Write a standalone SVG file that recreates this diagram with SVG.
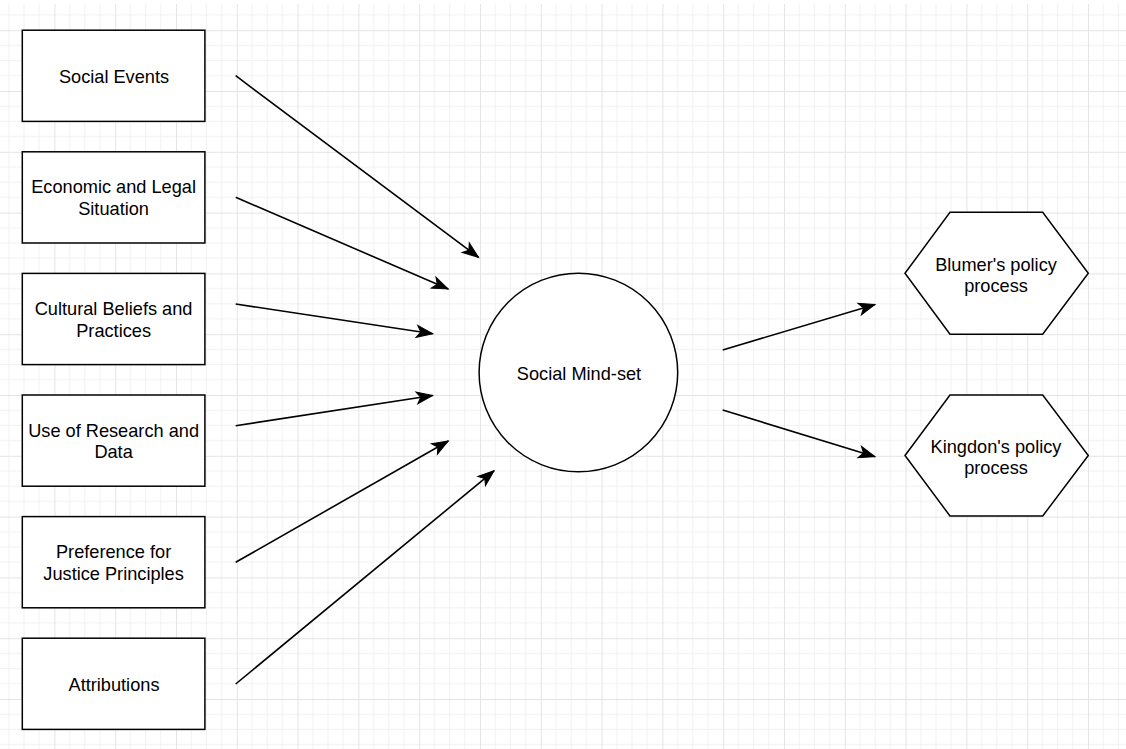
<svg xmlns="http://www.w3.org/2000/svg" width="1126" height="749" viewBox="0 0 1126 749">
  <defs>
    <pattern id="grid" x="54.4" y="30.2" width="60.8" height="60.8" patternUnits="userSpaceOnUse">
      <path d="M15.2 0V60.8M30.4 0V60.8M45.6 0V60.8M0 15.2H60.8M0 30.4H60.8M0 45.6H60.8" stroke="#f1f1f1" stroke-width="1" fill="none"/>
      <path d="M0.5 0V60.8M0 0.5H60.8" stroke="#e4e4e4" stroke-width="1" fill="none"/>
    </pattern>
    <marker id="arrow" markerUnits="userSpaceOnUse" markerWidth="22" markerHeight="18" viewBox="-18 -9 22 18" refX="0" refY="0" orient="auto">
      <path d="M0,0 L-16,-6 L-12,0 L-16,6 Z" fill="#000" stroke="#000" stroke-width="1" stroke-linejoin="miter"/>
    </marker>
    <style>
      .box { fill: #fff; stroke: #000; stroke-width: 1.5; }
      .lbl { font-family: "Liberation Sans", Arial, sans-serif; font-size: 18.2px; fill: #000; text-anchor: middle; }
      .edge { stroke: #000; stroke-width: 1.6; fill: none; marker-end: url(#arrow); }
    </style>
  </defs>

  <rect x="0" y="0" width="1126" height="749" fill="#fff"/>
  <rect x="0" y="4" width="1126" height="745" fill="url(#grid)"/>

  <g id="n-social-events">
    <rect class="box" x="22.3" y="30.2" width="182.6" height="91.2"/>
    <text class="lbl" x="114" y="83">Social Events</text>
  </g>
  <g id="n-economic">
    <rect class="box" x="22.3" y="151.8" width="182.6" height="91.2"/>
    <text class="lbl" x="113.6" y="193.3">Economic and Legal</text>
    <text class="lbl" x="113.6" y="215">Situation</text>
  </g>
  <g id="n-cultural">
    <rect class="box" x="22.3" y="273.4" width="182.6" height="91.2"/>
    <text class="lbl" x="113.6" y="314.9">Cultural Beliefs and</text>
    <text class="lbl" x="113.6" y="336.6">Practices</text>
  </g>
  <g id="n-research">
    <rect class="box" x="22.3" y="395" width="182.6" height="91.2"/>
    <text class="lbl" x="113.6" y="436.5">Use of Research and</text>
    <text class="lbl" x="113.6" y="458.2">Data</text>
  </g>
  <g id="n-justice">
    <rect class="box" x="22.3" y="516.6" width="182.6" height="91.2"/>
    <text class="lbl" x="113.6" y="558.1">Preference for</text>
    <text class="lbl" x="113.6" y="579.8">Justice Principles</text>
  </g>
  <g id="n-attributions">
    <rect class="box" x="22.3" y="638.2" width="182.6" height="91.2"/>
    <text class="lbl" x="114" y="690.9">Attributions</text>
  </g>

  <g id="n-mindset">
    <circle class="box" cx="578.4" cy="372.5" r="99.3"/>
    <text class="lbl" x="579" y="379.8">Social Mind-set</text>
  </g>

  <g id="n-blumer">
    <polygon class="box" points="905,273.3 950,212.3 1042.7,212.3 1088.3,273.3 1042.7,334.3 950,334.3"/>
    <text class="lbl" x="996" y="270.8">Blumer's policy</text>
    <text class="lbl" x="996" y="292.2">process</text>
  </g>
  <g id="n-kingdon">
    <polygon class="box" points="905,455.5 950,395 1042.7,395 1088.3,455.5 1042.7,516 950,516"/>
    <text class="lbl" x="996" y="453">Kingdon's policy</text>
    <text class="lbl" x="996" y="474.4">process</text>
  </g>

  <g id="connectors">
    <line class="edge" x1="235.7" y1="75.7" x2="478.5" y2="257.3"/>
    <line class="edge" x1="235.7" y1="197.3" x2="448.3" y2="289"/>
    <line class="edge" x1="235.7" y1="304" x2="432.7" y2="333.8"/>
    <line class="edge" x1="235.7" y1="425.7" x2="432.7" y2="395.5"/>
    <line class="edge" x1="235.7" y1="562.3" x2="448.3" y2="441"/>
    <line class="edge" x1="235.7" y1="684" x2="494" y2="470.8"/>
    <line class="edge" x1="722.7" y1="350" x2="875" y2="304.5"/>
    <line class="edge" x1="722.7" y1="410" x2="875" y2="456.7"/>
  </g>
</svg>
